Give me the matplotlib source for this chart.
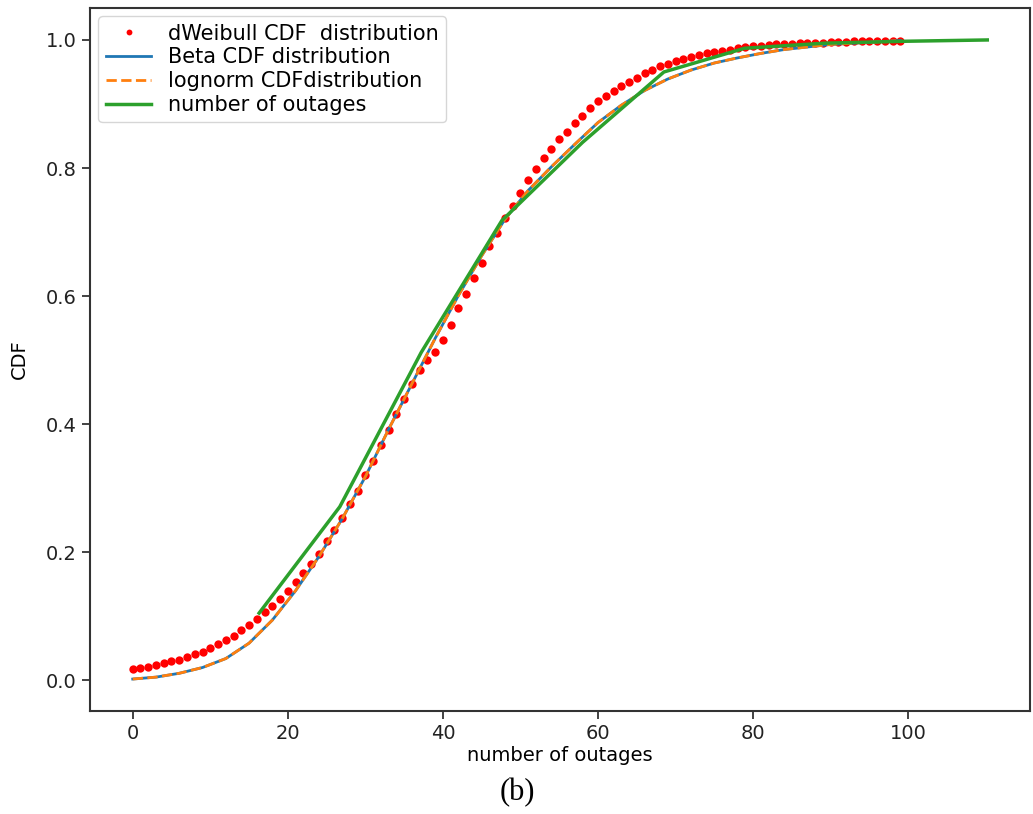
import matplotlib
matplotlib.use("Agg")
import matplotlib.pyplot as plt

# dWeibull CDF points (x = 0..99)
weib_x = list(range(100))
weib_y = [0.018, 0.019, 0.021, 0.024, 0.027, 0.030, 0.032, 0.036, 0.041, 0.045,
          0.051, 0.056, 0.063, 0.069, 0.078, 0.087, 0.096, 0.107, 0.116, 0.127,
          0.139, 0.154, 0.168, 0.182, 0.198, 0.217, 0.235, 0.254, 0.275, 0.296,
          0.320, 0.343, 0.367, 0.391, 0.416, 0.440, 0.463, 0.484, 0.500, 0.513,
          0.532, 0.555, 0.581, 0.603, 0.628, 0.652, 0.678, 0.699, 0.722, 0.741,
          0.761, 0.781, 0.798, 0.815, 0.830, 0.845, 0.857, 0.870, 0.882, 0.893,
          0.904, 0.913, 0.921, 0.928, 0.935, 0.941, 0.948, 0.953, 0.959, 0.963,
          0.967, 0.970, 0.974, 0.976, 0.979, 0.981, 0.983, 0.985, 0.987, 0.989,
          0.990, 0.991, 0.992, 0.993, 0.994, 0.994, 0.995, 0.995, 0.996, 0.996,
          0.997, 0.997, 0.997, 0.998, 0.998, 0.998, 0.998, 0.999, 0.999, 0.999]

# Beta / lognorm CDF curves
fit_x = [0, 3, 6, 9, 12, 15, 18, 21, 24, 27, 30, 33, 36, 39, 42, 45, 48, 51, 54,
         57, 60, 63, 66, 69, 72, 75, 78, 81, 84, 87, 90, 93, 96, 99]
beta_y = [0.002, 0.005, 0.011, 0.020, 0.034, 0.058, 0.094, 0.140, 0.193, 0.252,
          0.318, 0.392, 0.463, 0.534, 0.601, 0.663, 0.720, 0.765, 0.802, 0.837,
          0.871, 0.898, 0.921, 0.939, 0.953, 0.964, 0.972, 0.979, 0.985, 0.989,
          0.993, 0.995, 0.997, 0.999]
lognorm_y = [0.002, 0.005, 0.011, 0.020, 0.034, 0.058, 0.094, 0.140, 0.193, 0.252,
             0.318, 0.392, 0.463, 0.534, 0.601, 0.663, 0.720, 0.765, 0.802, 0.837,
             0.871, 0.898, 0.921, 0.939, 0.953, 0.964, 0.972, 0.979, 0.985, 0.989,
             0.993, 0.995, 0.997, 0.999]

# empirical outages CDF
emp_x = [16.3, 26.7, 37.2, 47.6, 58.0, 68.5, 78.9, 89.3, 99.8, 110.2]
emp_y = [0.105, 0.271, 0.512, 0.718, 0.840, 0.950, 0.987, 0.995, 0.998, 1.0]

xticks = [0, 20, 40, 60, 80, 100]
yticks = [0.0, 0.2, 0.4, 0.6, 0.8, 1.0]

fig = plt.figure(figsize=(10.33, 8.14), dpi=100)
ax = fig.add_axes([90 / 1033, 1 - 711 / 814, 940 / 1033, 703 / 814])

ax.plot(weib_x, weib_y, 'o', color='red', markersize=6, markeredgewidth=0,
        label='dWeibull CDF  distribution')
ax.plot(fit_x, beta_y, '-', color='#1f77b4', lw=2, label='Beta CDF distribution')
ax.plot(fit_x, lognorm_y, '--', color='#ff7f0e', lw=2, label='lognorm CDFdistribution')
ax.plot(emp_x, emp_y, '-', color='#2ca02c', lw=2.5, label='number of outages')

ax.set_xticks(xticks)
ax.set_yticks(yticks)
ax.set_xticklabels([str(t) for t in xticks])
ax.set_yticklabels([f"{t:.1f}" for t in yticks])
ax.tick_params(labelsize=14, length=6, width=1.2, colors='#222222')
for s in ax.spines.values():
    s.set_color('#333333')
    s.set_linewidth(1.5)

ax.set_xlabel('number of outages', fontsize=14, labelpad=2)
ax.set_ylabel('CDF', fontsize=14, labelpad=12)

leg = ax.legend(loc='upper left', fontsize=15, markerscale=0.7, handlelength=2.2,
                borderaxespad=0.4, labelspacing=0.18, borderpad=0.35)

fig.text(517 / 1033, 1 - 793 / 814, '(b)', ha='center', va='center',
         fontsize=22, family='Liberation Serif')

fig.savefig('out.png', dpi=100)
